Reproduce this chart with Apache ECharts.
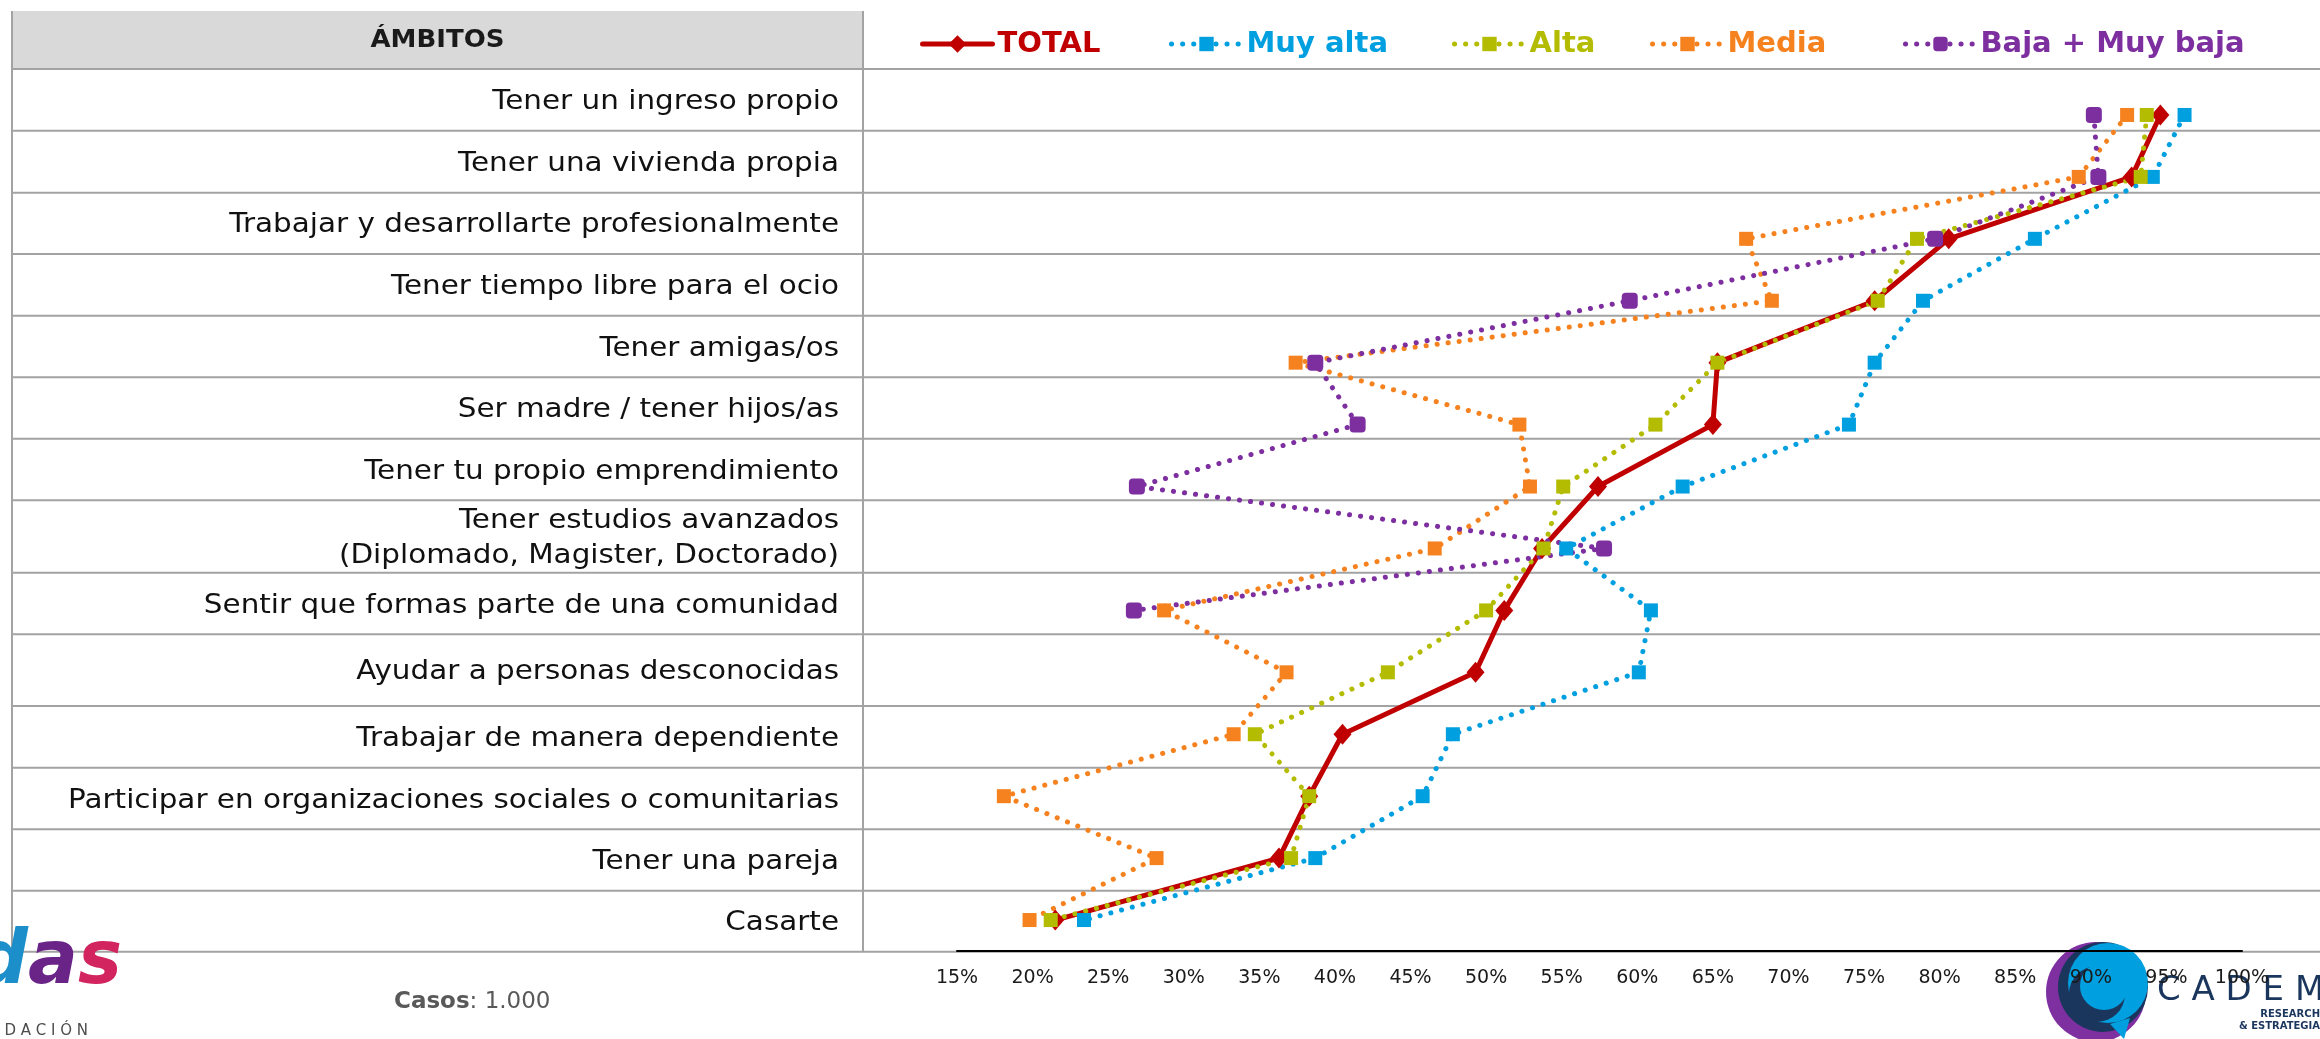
<!DOCTYPE html>
<html>
<head>
<meta charset="utf-8">
<title>Ámbitos</title>
<script src="https://cdn.jsdelivr.net/npm/echarts@6/dist/echarts.min.js"></script>
<style>
  html, body { margin: 0; padding: 0; background: #ffffff; }
  #chart { width: 2320px; height: 1039px; }
</style>
</head>
<body>
<div id="chart"></div>
<script>
// ---- data -------------------------------------------------------------
const categories = [
  'Tener un ingreso propio',
  'Tener una vivienda propia',
  'Trabajar y desarrollarte profesionalmente',
  'Tener tiempo libre para el ocio',
  'Tener amigas/os',
  'Ser madre / tener hijos/as',
  'Tener tu propio emprendimiento',
  'Tener estudios avanzados\n(Diplomado, Magister, Doctorado)',
  'Sentir que formas parte de una comunidad',
  'Ayudar a personas desconocidas',
  'Trabajar de manera dependiente',
  'Participar en organizaciones sociales o comunitarias',
  'Tener una pareja',
  'Casarte'
];

const seriesNames = ['TOTAL', 'Muy alta', 'Alta', 'Media', 'Baja + Muy baja'];

const total       = [94.6, 92.7, 80.6, 75.7, 65.3, 65.0, 57.4, 53.7, 51.2, 49.3, 40.5, 38.3, 36.3, 21.5];
const muyAlta     = [96.2, 94.1, 86.3, 78.9, 75.7, 74.0, 63.0, 55.3, 60.9, 60.1, 47.8, 45.8, 38.7, 23.4];
const alta        = [93.7, 93.3, 78.5, 75.9, 65.3, 61.2, 55.1, 53.8, 50.0, 43.5, 34.7, 38.3, 37.1, 21.2];
const media       = [92.4, 89.2, 67.2, 68.9, 37.4, 52.2, 52.9, 46.6, 28.7, 36.8, 33.3, 18.1, 28.2, 19.8];
const bajaMuyBaja = [90.2, 90.5, 79.7, 59.5, 38.7, 41.5, 26.9, 57.8, 26.7, null, null, null, null, null];

// percentage axis: ticks every 5 from 15 to 100
const xMin = 15, xMax = 100, xStep = 5;

const headerText = 'ÁMBITOS';
const casesLabel = 'Casos';
const casesValue = '1.000';

// ---- look -------------------------------------------------------------
const FONT = '"DejaVu Sans", "Noto Sans", sans-serif';
const COLORS = ['#C00000', '#009FDF', '#B3BC00', '#F5821F', '#7D2FA0'];

// table geometry
const TABLE_LEFT = 12, TABLE_DIVIDER = 863, TABLE_RIGHT = 2320;
const HEADER_TOP = 11, HEADER_BOTTOM = 69;
const ROW_HEIGHTS = [61.7, 62, 61.3, 61.7, 61.6, 61.4, 61.6, 72.4, 61.6, 71.7, 61.7, 61.6, 61.4, 61];
const LABEL_RIGHT = 839;
const LABEL_STRETCH = 1.09;   // wide geometric lettering
const GRID_LINE = '#A3A3A3';

const rowEdges = [HEADER_BOTTOM];
ROW_HEIGHTS.forEach(h => rowEdges.push(rowEdges[rowEdges.length - 1] + h));
const tableBottom = rowEdges[rowEdges.length - 1];

// ---- table, labels and footer drawn as graphics ------------------------
const graphics = [];

graphics.push({
  type: 'rect', z: 0,
  shape: { x: TABLE_LEFT, y: HEADER_TOP, width: TABLE_DIVIDER - TABLE_LEFT, height: HEADER_BOTTOM - HEADER_TOP },
  style: { fill: '#D9D9D9' }
});
graphics.push({
  type: 'text', z: 1,
  x: (TABLE_LEFT + TABLE_DIVIDER) / 2, y: (HEADER_TOP + HEADER_BOTTOM) / 2,
  scaleX: 1.04,
  style: {
    text: headerText, fill: '#1A1A1A', fontFamily: FONT, fontSize: 25, fontWeight: 'bold',
    align: 'center', verticalAlign: 'middle', textAlign: 'center', textVerticalAlign: 'middle'
  }
});

rowEdges.forEach(y => {
  graphics.push({
    type: 'line', z: 0,
    shape: { x1: TABLE_LEFT, y1: y, x2: TABLE_RIGHT, y2: y },
    style: { stroke: GRID_LINE, lineWidth: 2 }
  });
});
[TABLE_LEFT, TABLE_DIVIDER].forEach(x => {
  graphics.push({
    type: 'line', z: 0,
    shape: { x1: x, y1: HEADER_TOP, x2: x, y2: tableBottom },
    style: { stroke: GRID_LINE, lineWidth: 2 }
  });
});

categories.forEach((c, i) => {
  const yc = (rowEdges[i] + rowEdges[i + 1]) / 2 + 2;
  graphics.push({
    type: 'text', z: 1,
    x: LABEL_RIGHT, y: yc,
    scaleX: LABEL_STRETCH,
    style: {
      text: c, fill: '#111111', fontFamily: FONT, fontSize: 27, lineHeight: 35,
      align: 'right', verticalAlign: 'middle', textAlign: 'right', textVerticalAlign: 'middle'
    }
  });
});

// sample size note
graphics.push({
  type: 'text', z: 1, x: 394, y: 1002,
  style: {
    text: '{b|' + casesLabel + '}{r|: ' + casesValue + '}',
    align: 'left', verticalAlign: 'middle', textAlign: 'left', textVerticalAlign: 'middle',
    rich: {
      b: { fontFamily: FONT, fontSize: 23, fontWeight: 'bold', fill: '#595959', color: '#595959' },
      r: { fontFamily: FONT, fontSize: 23, fill: '#595959', color: '#595959' }
    }
  }
});

// foundation logo (bottom left), each letter in its own colour
graphics.push({
  type: 'text', z: 0, x: 122, y: 1001,
  style: {
    text: '{d|d}{a|a}{s|s}',
    align: 'right', verticalAlign: 'bottom', textAlign: 'right', textVerticalAlign: 'bottom',
    rich: {
      d: { fontFamily: FONT, fontSize: 74, fontWeight: 'bold', fontStyle: 'italic', fill: '#1C8FCB', color: '#1C8FCB' },
      a: { fontFamily: FONT, fontSize: 74, fontWeight: 'bold', fontStyle: 'italic', fill: '#6A2487', color: '#6A2487' },
      s: { fontFamily: FONT, fontSize: 74, fontWeight: 'bold', fontStyle: 'italic', fill: '#D2245F', color: '#D2245F' }
    }
  }
});
graphics.push({
  type: 'text', z: 0, x: 88, y: 1031,
  style: {
    text: 'F U N D A C I Ó N', fill: '#4D4D4D', fontFamily: FONT, fontSize: 15,
    align: 'right', verticalAlign: 'middle', textAlign: 'right', textVerticalAlign: 'middle'
  }
});

// research firm logo (bottom right)
graphics.push({ type: 'circle', z: 0, shape: { cx: 2096, cy: 992, r: 50 }, style: { fill: '#7E2FA0' } });
graphics.push({ type: 'circle', z: 0, shape: { cx: 2103, cy: 987, r: 45 }, style: { fill: '#1B365D' } });
graphics.push({ type: 'circle', z: 0, shape: { cx: 2108, cy: 983, r: 40 }, style: { fill: '#009FDF' } });
graphics.push({ type: 'circle', z: 0, shape: { cx: 2097, cy: 994, r: 28 }, style: { fill: '#1B365D' } });
graphics.push({ type: 'circle', z: 0, shape: { cx: 2104, cy: 986, r: 24 }, style: { fill: '#009FDF' } });
graphics.push({
  type: 'polygon', z: 0,
  shape: { points: [[2110, 1024], [2130, 1018], [2124, 1039]] },
  style: { fill: '#009FDF' }
});
graphics.push({
  type: 'text', z: 0, x: 2157, y: 991,
  style: {
    text: 'C A D E M', fill: '#1B365D', fontFamily: FONT, fontSize: 34,
    align: 'left', verticalAlign: 'middle', textAlign: 'left', textVerticalAlign: 'middle'
  }
});
graphics.push({
  type: 'text', z: 0, x: 2320, y: 1014,
  style: {
    text: 'RESEARCH', fill: '#1B365D', fontFamily: FONT, fontSize: 10, fontWeight: 'bold',
    align: 'right', verticalAlign: 'middle', textAlign: 'right', textVerticalAlign: 'middle'
  }
});
graphics.push({
  type: 'text', z: 0, x: 2320, y: 1026,
  style: {
    text: '& ESTRATEGIA', fill: '#1B365D', fontFamily: FONT, fontSize: 10, fontWeight: 'bold',
    align: 'right', verticalAlign: 'middle', textAlign: 'right', textVerticalAlign: 'middle'
  }
});

// ---- series ------------------------------------------------------------
const values = [total, muyAlta, alta, media, bajaMuyBaja];
const SOLID = { width: 5, type: 'solid', cap: 'round' };
const DOTS = { width: 5, type: [0.1, 11], cap: 'round' };

const series = seriesNames.map((name, i) => {
  const isTotal = i === 0;
  const isLast = i === seriesNames.length - 1;
  return {
    name,
    type: 'line',
    data: values[i],
    connectNulls: false,
    symbol: isTotal ? 'diamond' : (isLast ? 'roundRect' : 'rect'),
    symbolSize: isTotal ? [18, 21] : (isLast ? 16 : 14),
    showSymbol: true,
    lineStyle: Object.assign({ color: COLORS[i] }, isTotal ? SOLID : DOTS),
    itemStyle: { color: COLORS[i], borderWidth: 0 },
    emphasis: { disabled: true },
    z: 2
  };
});

// one legend per entry so each keeps its own spot along the header
const legendLeft = [915, 1164, 1447, 1645, 1898];
const legends = seriesNames.map((name, i) => ({
  data: [name],
  left: legendLeft[i],
  top: 21,
  itemWidth: 70,
  itemHeight: i === 0 ? 22 : 18,
  itemGap: 0,
  selectedMode: false,
  lineStyle: Object.assign({ color: COLORS[i] }, i === 0 ? SOLID : DOTS),
  textStyle: { color: COLORS[i], fontFamily: FONT, fontSize: 29, fontWeight: 'bold', lineHeight: 36 }
}));

const chart = echarts.init(document.getElementById('chart'), null, { renderer: 'canvas' });
chart.setOption({
  animation: false,
  backgroundColor: '#ffffff',
  legend: legends,
  grid: { left: 957, right: 78, top: 84, bottom: 88, containLabel: false },
  xAxis: {
    type: 'value',
    min: xMin, max: xMax, interval: xStep,
    z: 3,
    axisLine: { show: true, lineStyle: { color: '#000000', width: 2 } },
    axisTick: { show: false },
    splitLine: { show: false },
    axisLabel: {
      formatter: '{value}%', color: '#1A1A1A', fontFamily: FONT, fontSize: 19, margin: 18
    }
  },
  yAxis: {
    type: 'category',
    inverse: true,
    data: categories,
    boundaryGap: true,
    axisLine: { show: false },
    axisTick: { show: false },
    axisLabel: { show: false },
    splitLine: { show: false }
  },
  graphic: { elements: graphics },
  series
});
</script>
</body>
</html>
